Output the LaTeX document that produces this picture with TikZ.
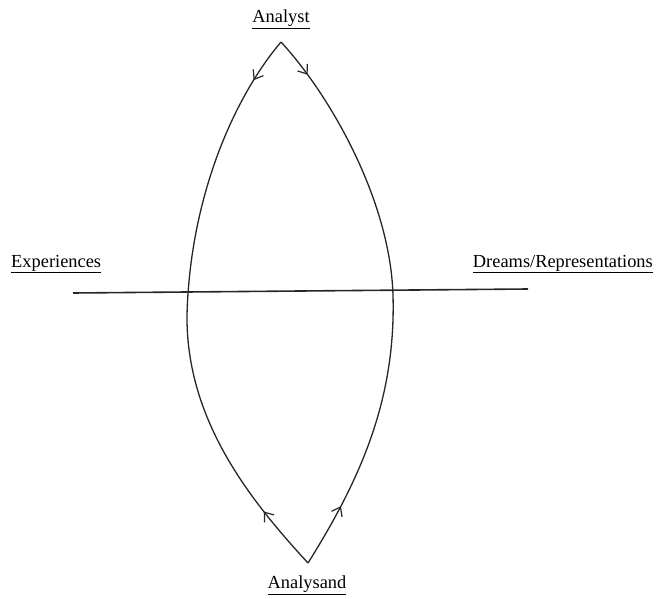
\documentclass[tikz,border=0pt]{standalone}
\usepackage{fontspec}
\setmainfont{Liberation Serif}
\usetikzlibrary{arrows.meta,decorations.markings}
\tikzset{
  lbl/.style={inner sep=0pt, font=\fontsize{18.4}{21}\selectfont},
  curve/.style={line width=1.3pt, draw=black!85},
  arr/.style={postaction={decorate}, decoration={markings, mark=at position #1 with {\arrow{Straight Barb[length=8pt,width=12pt,line width=1.2pt]}}}}
}
\begin{document}
\begin{tikzpicture}[x=1pt,y=-1pt]
\useasboundingbox (0,0) rectangle (656,599);
\coordinate (top) at (281,42);
\coordinate (bot) at (308,563);
\coordinate (lmid) at (187,315);
\coordinate (rmid) at (393,295);
\coordinate (hl) at (73,293);
\coordinate (hr) at (528,289);
\node[lbl] (analyst) at (281,19) {\underline{Analyst}};
\node[lbl] (analysand) at (307,585) {\underline{Analysand}};
\node[lbl, anchor=west] (exp) at (11,264) {\underline{Experiences}};
\node[lbl, anchor=east] (dreams) at (653,264) {\underline{Dreams/Representations}};
\draw[curve, line width=1.6pt] (hl) -- (hr);
\draw[curve, arr=0.16] (top) .. controls (232,100) and (190,200) .. (lmid);
\draw[curve, arr=0.24] (bot) .. controls (250,500) and (186,420) .. (lmid);
\draw[curve, arr=0.15] (top) .. controls (330,95) and (390,200) .. (rmid);
\draw[curve, arr=0.23] (bot) .. controls (360,480) and (396,400) .. (rmid);
\end{tikzpicture}
\end{document}
